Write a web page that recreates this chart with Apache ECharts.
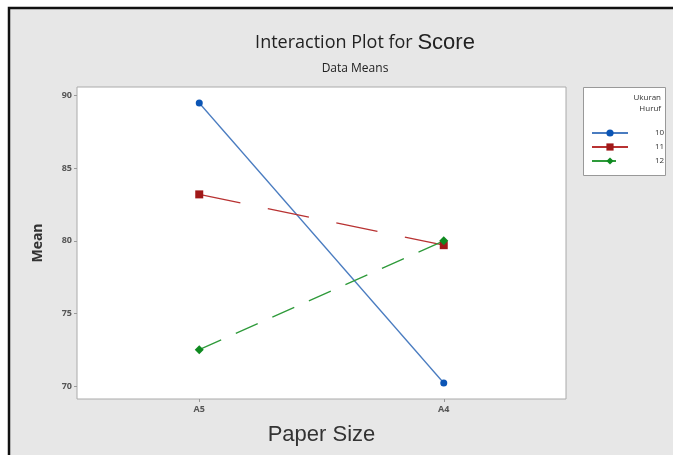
<!DOCTYPE html>
<html>
<head>
<meta charset="utf-8">
<script src="https://cdn.jsdelivr.net/npm/echarts@6/dist/echarts.min.js"></script>
<style>
html,body{margin:0;padding:0;background:#fff;}
#c{width:673px;height:455px;}
</style>
</head>
<body>
<div id="c"></div>
<script>
var categories = ['A5', 'A4'];
var seriesNames = ['10', '11', '12'];
var size10 = [89.5, 70.2];
var size11 = [83.2, 79.7];
var size12 = [72.5, 80.0];
var yTicks = [70, 75, 80, 85, 90];

var chart = echarts.init(document.getElementById('c'));
var font = 'Open Sans, Liberation Sans, sans-serif';
chart.setOption({
  backgroundColor: '#fff',
  animation: false,
  graphic: [
    {type: 'rect', z: -10, shape: {x: 9, y: 8, width: 700, height: 500},
     style: {fill: '#e7e7e7', stroke: '#111', lineWidth: 2.5}},
    {type: 'rect', z: 1, shape: {x: 583.5, y: 87.5, width: 82, height: 88},
     style: {fill: '#fff', stroke: '#999', lineWidth: 1}},
    {type: 'text', z: 5, x: 661, y: 92,
     style: {text: 'Ukuran\nHuruf', fill: '#333', font: '8px ' + font, align: 'right', lineHeight: 11}}
  ],
  title: [
    {text: '{a|Interaction Plot for }{b|Score}', left: 360, top: 27, textAlign: 'center',
     textStyle: {fontWeight: 'normal', rich: {
       a: {fontSize: 18, fontWeight: 'normal', fontFamily: font, color: '#222'},
       b: {fontSize: 22, fontWeight: 'normal', fontFamily: 'Liberation Sans, sans-serif', color: '#222'}
     }}},
    {text: 'Data Means', left: 350, top: 58, textAlign: 'center',
     textStyle: {fontSize: 12, fontWeight: 'normal', fontFamily: font, color: '#222'}}
  ],
  legend: {
    orient: 'vertical', left: 586, top: 124, itemWidth: 36, itemHeight: 9, itemGap: 6,
    data: seriesNames,
    textStyle: {fontSize: 8, color: '#333', fontFamily: font, padding: [0, 0, 0, 22]}
  },
  grid: {left: 77, right: 107, top: 87, bottom: 56, show: true, backgroundColor: '#fff', borderColor: '#aaa', borderWidth: 1},
  xAxis: {
    type: 'category', data: categories, boundaryGap: true,
    axisLine: {show: false},
    axisTick: {show: true, alignWithLabel: true, length: 3, lineStyle: {color: '#999'}},
    axisLabel: {fontSize: 9, fontWeight: 'bold', color: '#555', fontFamily: font, margin: 6},
    name: 'Paper Size', nameLocation: 'middle', nameGap: 25,
    nameTextStyle: {fontSize: 22, color: '#333', fontFamily: 'Liberation Sans, sans-serif', verticalAlign: 'top'}
  },
  yAxis: {
    type: 'value', min: 69.1, max: 90.6,
    splitLine: {show: false},
    axisLine: {show: false},
    axisTick: {show: true, length: 3, customValues: yTicks, lineStyle: {color: '#999'}},
    axisLabel: {fontSize: 9, fontWeight: 'bold', color: '#555', fontFamily: font, margin: 5, customValues: yTicks},
    name: 'Mean', nameLocation: 'middle', nameGap: 32, nameRotate: 90,
    nameTextStyle: {fontSize: 14, fontWeight: 'bold', color: '#333', fontFamily: font}
  },
  series: [
    {name: '10', type: 'line', data: size10, symbol: 'circle', symbolSize: 7,
     itemStyle: {color: '#0b55b5'}, lineStyle: {color: '#4a7cc0', width: 1.3, type: 'solid'}},
    {name: '11', type: 'line', data: size11, symbol: 'rect', symbolSize: 8,
     itemStyle: {color: '#a01818'}, lineStyle: {color: '#b83232', width: 1.3, type: [42, 28]}},
    {name: '12', type: 'line', data: size12, symbol: 'diamond', symbolSize: 9,
     itemStyle: {color: '#0f8a20'}, lineStyle: {color: '#2e9a3a', width: 1.3, type: [24, 16]}}
  ]
});
</script>
</body>
</html>
